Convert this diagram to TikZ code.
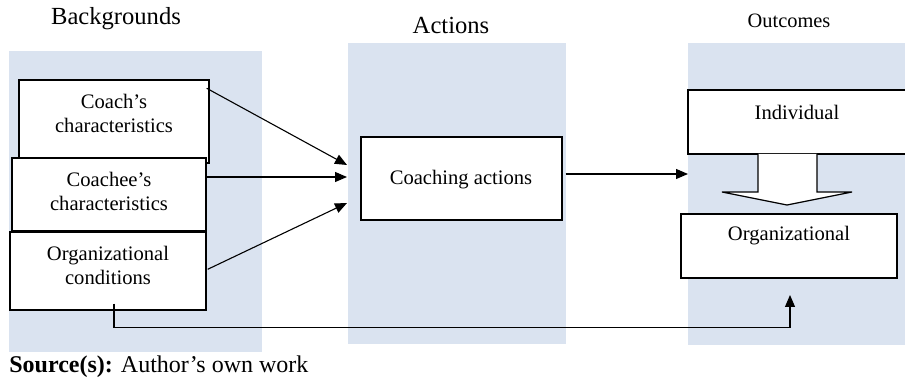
\documentclass[tikz,border=0pt]{standalone}
\usepackage{fontspec}
\setmainfont{Liberation Serif}
\usetikzlibrary{arrows.meta,calc}
\definecolor{panelblue}{RGB}{218,227,240}
\tikzset{
	panel/.style={fill=panelblue, draw=none},
	box/.style={draw=black, fill=white, line width=0.7pt, inner sep=0pt},
	conn/.style={-{Triangle[length=6pt,width=5pt]}, line width=0.55pt},
	boxtext/.style={align=center, font=\fontsize{10.3}{12}\selectfont, inner sep=0pt},
	coltitle/.style={font=\fontsize{12.3}{14}\selectfont, inner sep=0pt}
}

\begin{document}
\begin{tikzpicture}[x=0.5pt, y=-0.5pt]
		\useasboundingbox (0,0) rectangle (905,384);

		% shaded columns
		\fill [panel] (9,51) rectangle (262,352);
		\fill [panel] (348,43) rectangle (566,344);
		\fill [panel] (688,43) rectangle (912,345);

		\node [coltitle] (bg-title) at (116,19) {Backgrounds};
		\node [coltitle] (act-title) at (451,25) {Actions};
		\node [coltitle, font=\fontsize{10.2}{12}\selectfont] (out-title) at (789,21) {Outcomes};

		% backgrounds
		\node [box, minimum width=95pt, minimum height=41.5pt] (coach) at (114,121.5) {};
		\node [boxtext] (coach-t) at (114,113) {Coach's\\characteristics};
		\node [box, minimum width=97pt, minimum height=36.5pt] (coachee) at (109,194.5) {};
		\node [boxtext] (coachee-t) at (109,191) {Coachee's\\characteristics};
		\node [box, minimum width=98pt, minimum height=39pt] (org) at (108,271) {};
		\node [boxtext] (org-t) at (108,265) {Organizational\\conditions};

		% actions
		\node [box, minimum width=100.5pt, minimum height=41.5pt] (coaching) at (461.5,178.5) {};
		\node [boxtext] (coaching-t) at (461,180) {Coaching actions};

		% outcomes
		\node [box, minimum width=110pt, minimum height=32pt] (indiv) at (798,122) {};
		\node [boxtext] (indiv-t) at (797,112) {Individual};
		\node [box, minimum width=108pt, minimum height=32pt] (orgout) at (789,246) {};
		\node [boxtext] (orgout-t) at (789,236) {Organizational};

		% block arrow
		\draw [box, line width=0.6pt] (758,154) -- (758,192) -- (722,192) -- (787,205)
			-- (852,192) -- (817,192) -- (817,154);

		\coordinate (in-coach) at (347,165);
		\coordinate (in-coachee) at (347,177);
		\coordinate (in-org) at (347,203);
		\coordinate (in-out) at (688,174);
		\coordinate (in-orgout) at (790,295);

		\draw [conn] ($(coach.north east)+(-3,9)$) to (in-coach);
		\draw [conn] (coachee.east |- in-coachee) to (in-coachee);
		\draw [conn] ($(org.north east)+(1,38)$) to (in-org);
		\draw [conn] ($(coaching.east |- in-out)+(3,0)$) to (in-out);
		\draw [conn] ($(org.south)+(6,-7)$) -- ++(0,24) -| (in-orgout);

		\node [anchor=west, font=\fontsize{12}{14}\selectfont, inner sep=0pt] (source) at (9,367)
			{\textbf{Source(s):} Author's own work};
	\end{tikzpicture}
\end{document}
